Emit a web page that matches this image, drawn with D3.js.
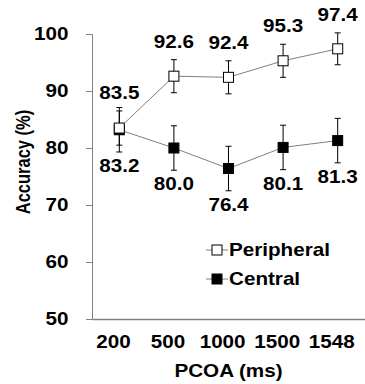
<!DOCTYPE html>
<html>
<head>
<meta charset="utf-8">
<script src="https://cdn.jsdelivr.net/npm/d3@7"></script>
<style>
  body { margin: 0; background: #fff; }
  svg text { font-family: "Liberation Sans", Arial, sans-serif; font-weight: bold; fill: #000; }
</style>
</head>
<body>
<svg id="chart" width="365" height="384"></svg>
<script>
const categories = ['200', '500', '1000', '1500', '1548'];
const peripheral = [83.5, 92.6, 92.4, 95.3, 97.4];
const peripheralErr = [3.0, 2.9, 2.9, 2.9, 2.8];
const central = [83.2, 80.0, 76.4, 80.1, 81.3];
const centralErr = [3.9, 3.9, 3.9, 3.9, 3.9];
const yTicks = [50, 60, 70, 80, 90, 100];

const margin = { top: 34, right: 0, bottom: 65, left: 92 };
const outerWidth = 365, outerHeight = 384;
const width = outerWidth - margin.left - margin.right;
const height = outerHeight - margin.top - margin.bottom;
const fontSize = '17.5px';
// the original picture is a bit wider than tall, so text is stretched sideways
const stretch = 'scale(1.18,1)';

const svg = d3.select('#chart');
const x = d3.scaleBand().domain(categories).range([0, width]);
const y = d3.scaleLinear().domain([50, 100]).range([height, 0]);
const cx = d => x(d) + x.bandwidth() / 2;

const g = svg.append('g')
  .attr('transform', 'translate(' + margin.left + ',' + margin.top + ')');

// y axis
const yAxis = g.append('g')
  .call(d3.axisLeft(y).tickValues(yTicks).tickSize(6).tickPadding(14));
yAxis.select('.domain').attr('stroke', '#808080');
yAxis.selectAll('.tick line').attr('stroke', '#808080');
yAxis.selectAll('.tick text').style('font-size', fontSize).attr('transform', stretch);

// x axis
const xAxis = g.append('g')
  .attr('transform', 'translate(0,' + height + ')')
  .call(d3.axisBottom(x).tickSize(0).tickPadding(16.5).tickSizeOuter(0));
xAxis.select('.domain').attr('stroke', '#808080').attr('stroke-width', 1.5);
xAxis.selectAll('.tick text').style('font-size', fontSize)
  .attr('dx', -5).attr('transform', stretch);

// axis titles
svg.append('text')
  .attr('transform', 'translate(29.5,162) ' + stretch + ' rotate(-90)')
  .attr('text-anchor', 'middle')
  .style('font-size', '16.5px')
  .text('Accuracy (%)');

svg.append('text')
  .attr('transform', 'translate(228.5,376.5) ' + stretch)
  .attr('text-anchor', 'middle')
  .style('font-size', fontSize)
  .text('PCOA (ms)');

const series = [
  { name: 'Central', values: central, err: centralErr, fill: '#000', above: false },
  { name: 'Peripheral', values: peripheral, err: peripheralErr, fill: '#fff', above: true }
];

series.forEach(s => {
  const pts = categories.map((c, i) => ({ c, v: s.values[i], e: s.err[i] }));

  g.append('path')
    .datum(pts)
    .attr('fill', 'none')
    .attr('stroke', '#808080')
    .attr('stroke-width', 1)
    .attr('d', d3.line().x(d => cx(d.c)).y(d => y(d.v)));

  const eb = g.append('g').selectAll('g').data(pts).enter().append('g')
    .attr('stroke', '#000').attr('stroke-width', 1);
  eb.append('line')
    .attr('x1', d => cx(d.c)).attr('x2', d => cx(d.c))
    .attr('y1', d => y(d.v + d.e)).attr('y2', d => y(d.v - d.e));
  eb.append('line')
    .attr('x1', d => cx(d.c) - 3).attr('x2', d => cx(d.c) + 3)
    .attr('y1', d => y(d.v + d.e)).attr('y2', d => y(d.v + d.e));
  eb.append('line')
    .attr('x1', d => cx(d.c) - 3).attr('x2', d => cx(d.c) + 3)
    .attr('y1', d => y(d.v - d.e)).attr('y2', d => y(d.v - d.e));
});

series.forEach(s => {
  const pts = categories.map((c, i) => ({ c, v: s.values[i], e: s.err[i] }));
  g.selectAll(null).data(pts).enter().append('rect')
    .attr('x', d => cx(d.c) - 5)
    .attr('y', d => y(d.v) - 5)
    .attr('width', 10).attr('height', 10)
    .attr('fill', s.fill)
    .attr('stroke', '#000').attr('stroke-width', 1);

  g.selectAll(null).data(pts).enter().append('text')
    .attr('transform', d => 'translate(' + cx(d.c) + ',' +
      (s.above ? y(d.v + d.e) - 12 : y(d.v - d.e) + 20) + ') ' + stretch)
    .attr('text-anchor', 'middle')
    .style('font-size', fontSize)
    .text(d => d.v.toFixed(1));
});

// legend
const legend = svg.append('g').attr('transform', 'translate(206,250)');
['Peripheral', 'Central'].forEach((name, i) => {
  const s = series.find(d => d.name === name);
  const row = legend.append('g').attr('transform', 'translate(0,' + i * 29 + ')');
  row.append('line').attr('x1', 0).attr('x2', 22).attr('y1', 0).attr('y2', 0)
    .attr('stroke', '#808080');
  row.append('rect').attr('x', 6).attr('y', -5).attr('width', 10).attr('height', 10)
    .attr('fill', s.fill).attr('stroke', '#000');
  row.append('text').attr('transform', 'translate(23,6) ' + stretch)
    .style('font-size', fontSize)
    .text(name);
});
</script>
</body>
</html>
